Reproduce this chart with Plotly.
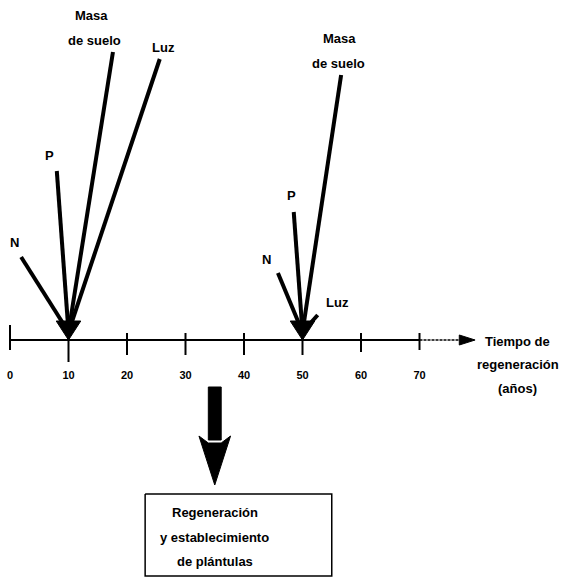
import plotly.graph_objects as go

# ---------------- data ----------------
tick_years = [0, 10, 20, 30, 40, 50, 60, 70]
tick_labels = ["0", "10", "20", "30", "40", "50", "60", "70"]
tick_up = [15, 7, 7, 7, 7, 7, 7, 7]          # tick extent above axis
tick_down = [-10, -22, -15, -15, -15, -15, -12, -10]

# regeneration pulses, in years
event_years = [10, 50]
# factor arrows: event index, start year, start height
factor_event = [0, 0, 0, 0, 1, 1, 1, 1]
factor_start_t = [1.9, 8.0, 17.6, 25.6, 45.8, 48.5, 56.6, 52.6]
factor_start_h = [83, 169, 288, 281, 67, 128, 265, 25]

# factor label lines
label_text = ["N", "P", "Masa", "de suelo", "Luz", "N", "P", "Masa", "de suelo", "Luz"]
label_t = [0.85, 6.67, 14.0, 14.36, 26.3, 43.9, 48.2, 56.4, 56.1, 55.9]
label_h = [98, 185, 325, 300, 293, 81, 145, 302, 277, 38]

axis_end = 70
axis_tail_end = 76.8
axis_arrow_tip = 79.5
axis_title_lines = ["Tiempo de", "regeneración", "(años)"]
axis_title_t = 86.8
axis_title_h = [-1, -24, -48]

regen_t = 35.0
box_lines = ["Regeneración", "y establecimiento", "de plántulas"]
box_line_h = [-172, -197, -221]
box_t = [23.1, 55.0]
box_h = [-154, -236]

# ---------------- figure ----------------
fig = go.Figure()
black = "black"
FONT = dict(family="Liberation Sans, Arial, sans-serif", size=13, color=black, weight="bold")

# main axis line
fig.add_trace(go.Scatter(x=[tick_years[0], axis_end], y=[0, 0], mode="lines",
                         line=dict(color=black, width=2), hoverinfo="skip"))
fig.add_trace(go.Scatter(x=[axis_end, axis_tail_end], y=[0, 0], mode="lines",
                         line=dict(color=black, width=1.3, dash="3px,1px"), hoverinfo="skip"))
# axis arrow head
fig.add_trace(go.Scatter(x=[axis_tail_end, axis_arrow_tip, axis_tail_end, axis_tail_end],
                         y=[5, 0, -5, 5], mode="lines", fill="toself", fillcolor=black,
                         line=dict(color=black, width=1), hoverinfo="skip"))
# ticks
for t, u, d in zip(tick_years, tick_up, tick_down):
    fig.add_trace(go.Scatter(x=[t, t], y=[d, u], mode="lines",
                             line=dict(color=black, width=2), hoverinfo="skip"))
fig.add_trace(go.Scatter(x=tick_years, y=[-36] * len(tick_years), mode="text",
                         text=tick_labels, textfont=dict(FONT, size=11), hoverinfo="skip"))

# factor lines
for ev, s_t, s_h in zip(factor_event, factor_start_t, factor_start_h):
    fig.add_trace(go.Scatter(x=[s_t, event_years[ev]], y=[s_h, 8], mode="lines",
                             line=dict(color=black, width=4), hoverinfo="skip"))
# converging arrow heads
for ev_t in event_years:
    hw = 2.1
    fig.add_trace(go.Scatter(x=[ev_t - hw, ev_t, ev_t + hw, ev_t - hw], y=[19, 0, 19, 19],
                             mode="lines", fill="toself", fillcolor=black,
                             line=dict(color=black, width=1), hoverinfo="skip"))
# factor labels
for name, lt, lh in zip(label_text, label_t, label_h):
    fig.add_annotation(x=lt, y=lh, text=name, showarrow=False, font=FONT, align="center")

# axis title
for line, lh in zip(axis_title_lines, axis_title_h):
    fig.add_annotation(x=axis_title_t, y=lh, text=line, showarrow=False, font=FONT,
                       align="center")

# big down arrow
sw = 1.1
hw = 2.7
fig.add_trace(go.Scatter(x=[regen_t - sw, regen_t + sw, regen_t + sw, regen_t - sw, regen_t - sw],
                         y=[-47, -47, -100, -100, -47], mode="lines", fill="toself",
                         fillcolor=black, line=dict(color=black, width=1), hoverinfo="skip"))
fig.add_trace(go.Scatter(x=[regen_t - hw, regen_t - sw, regen_t + sw, regen_t + hw, regen_t, regen_t - hw],
                         y=[-96, -103, -103, -96, -145, -96], mode="lines", fill="toself",
                         fillcolor=black, line=dict(color=black, width=1), hoverinfo="skip"))

# box
fig.add_trace(go.Scatter(x=[box_t[0], box_t[1], box_t[1], box_t[0], box_t[0]],
                         y=[box_h[0], box_h[0], box_h[1], box_h[1], box_h[0]], mode="lines",
                         line=dict(color=black, width=1.5), hoverinfo="skip"))
for line, lh in zip(box_lines, box_line_h):
    fig.add_annotation(x=regen_t, y=lh, text=line, showarrow=False, font=FONT, align="center")

fig.update_layout(
    width=565, height=577, margin=dict(l=0, r=0, t=0, b=0),
    paper_bgcolor="white", plot_bgcolor="white", showlegend=False,
    xaxis=dict(range=[-1.709, 94.87], visible=False, fixedrange=True),
    yaxis=dict(range=[-237, 340], visible=False, fixedrange=True),
)
fig.write_html("out.html", config={"displayModeBar": False, "staticPlot": True},
               post_script="document.body.style.margin='0px';document.body.style.overflow='hidden';")
